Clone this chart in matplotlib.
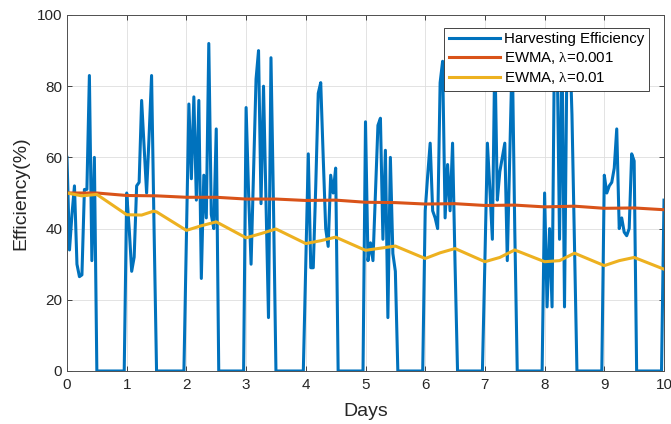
import numpy as np
import matplotlib
matplotlib.use("Agg")
import matplotlib.pyplot as plt

# hourly harvesting efficiency (%), 0..240 h
efficiency = [
    60, 34, 44, 52, 30, 26.5, 27, 51, 51, 83, 31, 60, 0, 0, 0, 0, 0, 0, 0, 0, 0, 0, 0, 0,
    50, 40, 28, 32, 52, 53, 76, 63, 50, 66, 83, 40, 0, 0, 0, 0, 0, 0, 0, 0, 0, 0, 0, 0,
    37, 75, 54, 77, 48, 76, 26, 55, 43, 92, 44, 40, 68, 0, 0, 0, 0, 0, 0, 0, 0, 0, 0, 0,
    74, 50, 30, 56, 82, 90, 47, 80, 47, 15, 88, 47, 0, 0, 0, 0, 0, 0, 0, 0, 0, 0, 0, 0,
    30, 61, 29, 29, 52, 78, 81, 60, 40, 35, 55, 50, 57, 0, 0, 0, 0, 0, 0, 0, 0, 0, 0, 0,
    70, 31, 36, 31, 50, 69, 71, 37, 62, 15, 60, 33, 28, 0, 0, 0, 0, 0, 0, 0, 0, 0, 0, 0,
    45, 55, 64, 45, 43, 40, 81, 87, 43, 58, 45, 64, 30, 0, 0, 0, 0, 0, 0, 0, 0, 0, 0, 0,
    31, 64, 51, 37, 90, 48, 56, 60, 64, 31, 60, 90, 40, 0, 0, 0, 0, 0, 0, 0, 0, 0, 0, 0,
    50, 18, 40, 18, 95, 92, 37, 92, 18, 90, 95, 72, 36, 0, 0, 0, 0, 0, 0, 0, 0, 0, 0, 0,
    55, 50, 52, 53, 57, 68, 40, 43, 39, 38, 40, 61, 59, 0, 0, 0, 0, 0, 0, 0, 0, 0, 0, 0,
    48,
]

# EWMA, lambda=0.001, read every half day
ewma_slow_days = [0, 0.5, 1, 1.5, 2, 2.5, 3, 3.5, 4, 4.5, 5,
                  5.5, 6, 6.5, 7, 7.5, 8, 8.5, 9, 9.5, 10]
ewma_slow = [50.0, 50.0, 49.3, 49.2, 48.8, 48.8, 48.3, 48.3, 47.9, 48.0, 47.4,
             47.3, 46.9, 47.0, 46.5, 46.6, 46.1, 46.3, 45.7, 45.8, 45.3]

# EWMA, lambda=0.01, read at start / middle / end of each daylight window
ewma_fast_days = [0, 0.25, 0.5, 1, 1.25, 1.45, 1.5, 2, 2.25, 2.5, 3, 3.25, 3.5,
                  4, 4.25, 4.5, 5, 5.25, 5.5, 6, 6.25, 6.5, 7, 7.25, 7.5,
                  8, 8.25, 8.5, 9, 9.25, 9.5, 10]
ewma_fast = [50.0, 49.2, 49.6, 43.9, 43.8, 44.9, 44.7, 39.5, 40.8, 41.9, 37.4, 38.6, 39.9,
             35.8, 36.6, 37.6, 33.9, 34.5, 35.1, 31.6, 33.2, 34.4, 30.7, 31.9, 34.0,
             30.7, 31.0, 33.1, 29.6, 31.0, 31.9, 28.6]

days = np.arange(len(efficiency)) / 24

plt.rcParams['font.family'] = ['Liberation Sans', 'DejaVu Sans']
plt.rcParams['mathtext.fontset'] = 'custom'
plt.rcParams['mathtext.rm'] = 'Liberation Serif'
plt.rcParams['mathtext.it'] = 'Liberation Serif'

fig = plt.figure(figsize=(6.71, 4.24), dpi=100)
ax = fig.add_axes([67 / 671, 53 / 424, 597 / 671, 356 / 424])

ax.plot(days, efficiency, color='#0072BD', lw=2.2, label='Harvesting Efficiency')
ax.plot(ewma_slow_days, ewma_slow, color='#D95319', lw=2.2, label=r'EWMA, $\lambda$=0.001')
ax.plot(ewma_fast_days, ewma_fast, color='#EDB120', lw=2.2, label=r'EWMA, $\lambda$=0.01')

ax.set_xlim(0, 10)
ax.set_ylim(0, 100)
ax.set_xticks(range(0, 11))
ax.set_yticks(range(0, 101, 20))
ax.grid(True, color='#dedede', lw=0.6)
ax.set_axisbelow(True)
ax.tick_params(direction='in', length=3.5, width=0.6, colors='#262626',
               labelsize=11, top=True, right=True)
ax.tick_params(axis='x', pad=5)
for s in ax.spines.values():
    s.set_color('#505050')
    s.set_linewidth(0.7)

ax.set_xlabel('Days', fontsize=14, color='#262626', labelpad=8)
ax.set_ylabel('Efficiency(%)', fontsize=14, color='#262626', labelpad=5)

leg = ax.legend(loc='upper right', bbox_to_anchor=((649 - 67) / 597, (371 - 28) / 356),
                borderaxespad=0, fontsize=10.8, fancybox=False, framealpha=1,
                edgecolor='#262626', handlelength=3.4, handletextpad=0.3,
                borderpad=0.3, labelspacing=0.25)
leg.get_frame().set_linewidth(0.6)

fig.savefig('out.png', dpi=100)
